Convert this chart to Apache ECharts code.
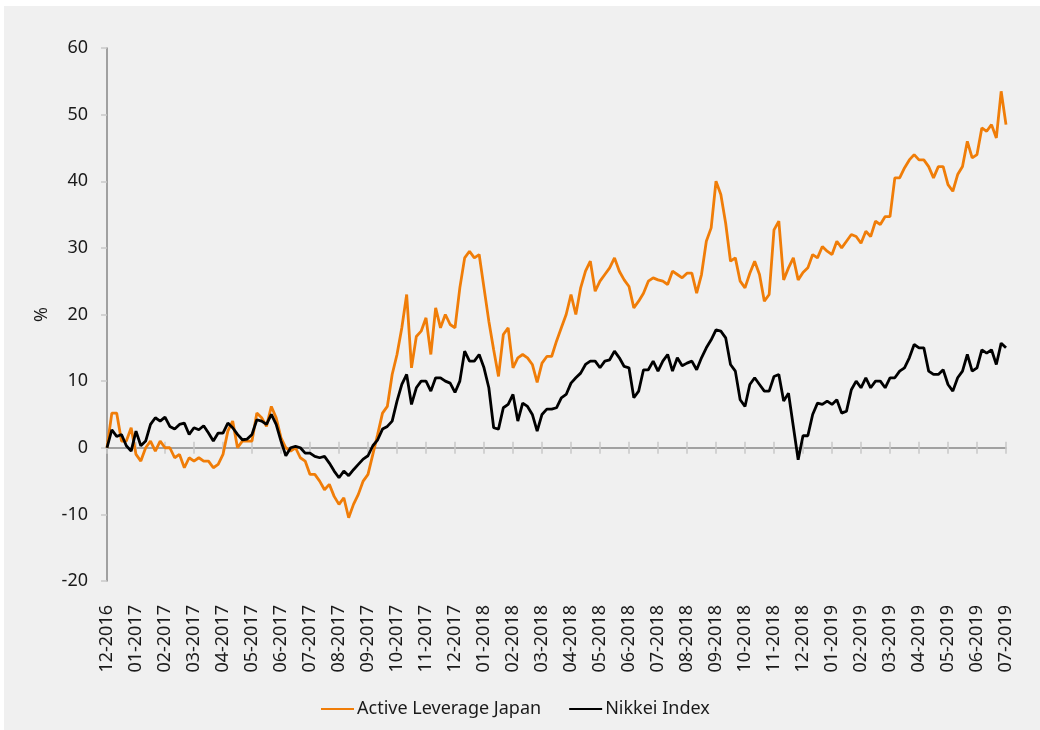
<!DOCTYPE html>
<html>
<head>
<meta charset="utf-8">
<title>Active Leverage Japan vs Nikkei Index</title>
<script src="https://cdn.jsdelivr.net/npm/echarts@6/dist/echarts.min.js"></script>
<style>
  html, body { margin: 0; padding: 0; background: #fff; }
  #chart { position: absolute; left: 4px; top: 6px; width: 1036px; height: 724px; background: #f0f0f0; }
</style>
</head>
<body>
<div id="chart"></div>
<script>
const tickLabels = [
  '12-2016', '01-2017', '02-2017', '03-2017', '04-2017', '05-2017', '06-2017', '07-2017',
  '08-2017', '09-2017', '10-2017', '11-2017', '12-2017', '01-2018', '02-2018', '03-2018',
  '04-2018', '05-2018', '06-2018', '07-2018', '08-2018', '09-2018', '10-2018', '11-2018',
  '12-2018', '01-2019', '02-2019', '03-2019', '04-2019', '05-2019', '06-2019', '07-2019'
]
// values read every ~5 days (6 per month), one row per month
const stepsPerMonth = 6

const activeLeverage = [
  0, 5.2, 5.2, 1, 1, 3,
  -1, -2, 0, 1, -0.5, 1,
  0, 0, -1.5, -1, -3, -1.5,
  -2, -1.5, -2, -2, -3, -2.5,
  -1, 2.5, 4, 0, 1, 1,
  1, 5.2, 4.5, 3.2, 6.2, 4.5,
  1.5, 0, -0.5, 0, -1.5, -2,
  -4, -4, -5, -6.3, -5.5, -7.3,
  -8.5, -7.5, -10.5, -8.5, -7, -5,
  -4, -1, 2, 5.2, 6.2, 11,
  14, 18, 23, 12, 16.7, 17.5,
  19.5, 14, 21, 18, 20, 18.5,
  18, 24, 28.5, 29.5, 28.5, 29,
  24, 19, 14.7, 10.7, 17, 18,
  12, 13.5, 14, 13.5, 12.5, 9.8,
  12.7, 13.7, 13.7, 16, 18, 20,
  23, 20, 24, 26.5, 28, 23.5,
  25, 26, 27, 28.5, 26.5, 25.2,
  24.2, 21, 22, 23.2, 25, 25.5,
  25.2, 25, 24.5, 26.5, 26, 25.5,
  26.2, 26.2, 23.2, 26, 31, 33,
  40, 38, 33.7, 28, 28.5, 25,
  24, 26.2, 28, 26, 22, 23,
  32.7, 34, 25.2, 27, 28.5, 25.2,
  26.3, 27, 29, 28.5, 30.2, 29.5,
  29, 31, 30, 31, 32, 31.7,
  30.7, 32.5, 31.7, 34, 33.5, 34.7,
  34.7, 40.5, 40.5, 42, 43.2, 44,
  43.2, 43.2, 42.2, 40.5, 42.2, 42.2,
  39.5, 38.5, 41, 42.2, 46, 43.5,
  44, 48, 47.5, 48.5, 46.5, 53.5,
  48.5
]

const nikkei = [
  0, 2.7, 1.7, 2, 0.3, -0.5,
  2.5, 0.3, 1, 3.5, 4.5, 4,
  4.6, 3.2, 2.8, 3.5, 3.7, 2,
  3, 2.7, 3.3, 2.2, 1, 2.2,
  2.2, 3.7, 3, 2, 1.2, 1.3,
  2, 4.2, 4, 3.5, 5, 3.5,
  1, -1.2, 0, 0.2, 0, -0.8,
  -0.8, -1.3, -1.5, -1.3, -2.3, -3.5,
  -4.5, -3.5, -4.2, -3.3, -2.5, -1.7,
  -1.2, 0.3, 1.2, 2.8, 3.2, 4,
  7, 9.5, 11, 6.5, 9, 10,
  10, 8.5, 10.5, 10.5, 10, 9.7,
  8.3, 10, 14.5, 13, 13, 14,
  12, 9, 3, 2.8, 6, 6.5,
  8, 4, 6.7, 6.2, 5, 2.5,
  5, 5.8, 5.8, 6, 7.5, 8,
  9.7, 10.5, 11.2, 12.5, 13, 13,
  12, 13, 13.2, 14.5, 13.5, 12.2,
  12, 7.5, 8.5, 11.7, 11.7, 13,
  11.5, 13, 14, 11.5, 13.5, 12.3,
  12.7, 13, 11.7, 13.5, 15, 16.2,
  17.7, 17.5, 16.5, 12.5, 11.5, 7.2,
  6.2, 9.5, 10.5, 9.5, 8.5, 8.5,
  10.7, 11, 7, 8.2, 3.2, -1.8,
  1.8, 1.8, 5, 6.7, 6.5, 7,
  6.5, 7.2, 5.2, 5.5, 8.7, 10,
  9, 10.5, 9, 10, 10, 9,
  10.5, 10.5, 11.5, 12, 13.5, 15.5,
  15, 15, 11.5, 11, 11, 11.7,
  9.5, 8.5, 10.5, 11.5, 14, 11.5,
  12, 14.7, 14.2, 14.7, 12.5, 15.7,
  15
]

const yMin = -20
const yMax = 60

// one category per sample, the month label is kept before the '/'
const categories = []
tickLabels.forEach(function (label, m) {
  const n = m === tickLabels.length - 1 ? 1 : stepsPerMonth
  for (let k = 0; k < n; k++) {
    categories.push(label + '/' + k)
  }
})

const font = 'Noto Sans'
const fontSize = 18
const textColor = '#1a1a1a'
const gridTop = 42
const gridBottom = 149
const chartHeight = 724

// the second tick row sits on the zero line, measured up from the grid bottom
const zeroOffset = -(chartHeight - gridTop - gridBottom) * (0 - yMin) / (yMax - yMin)

const chart = echarts.init(document.getElementById('chart'))

const baseX = {
  type: 'category',
  data: categories,
  boundaryGap: false,
  splitLine: { show: false }
}
const monthTick = { show: true, interval: stepsPerMonth - 1, length: 6, lineStyle: { color: '#c8c8c8', width: 1.5 } }

const option = {
  animation: false,
  backgroundColor: '#f0f0f0',
  textStyle: { fontFamily: font },
  grid: {
    left: 103,
    right: 34,
    top: gridTop,
    bottom: gridBottom,
    outerBoundsMode: 'none'
  },
  legend: {
    left: 312,
    top: 689,
    icon: 'rect',
    itemWidth: 33,
    itemHeight: 2,
    itemGap: 28,
    textStyle: { fontSize: fontSize, color: textColor, fontFamily: font, padding: [0, 0, 0, -2] },
    data: ['Active Leverage Japan', 'Nikkei Index']
  },
  xAxis: [
    // zero line, ticks going down
    Object.assign({}, baseX, {
      position: 'bottom',
      axisLine: { onZero: true, lineStyle: { color: '#868686', width: 1.5 } },
      axisTick: monthTick,
      axisLabel: { show: false }
    }),
    // ticks going up from the zero line
    Object.assign({}, baseX, {
      position: 'bottom',
      offset: zeroOffset,
      axisLine: { show: false, onZero: false },
      axisTick: Object.assign({}, monthTick, { inside: true }),
      axisLabel: { show: false }
    }),
    // month labels under the plot
    Object.assign({}, baseX, {
      position: 'bottom',
      axisLine: { show: false, onZero: false },
      axisTick: { show: false },
      axisLabel: {
        interval: stepsPerMonth - 1,
        rotate: 90,
        margin: 24,
        fontSize: fontSize,
        color: textColor,
        fontFamily: font,
        formatter: function (v) {
          return v.split('/')[0]
        }
      }
    })
  ],
  yAxis: {
    type: 'value',
    min: yMin,
    max: yMax,
    interval: 10,
    name: '%',
    nameLocation: 'middle',
    nameGap: 55,
    nameRotate: 90,
    nameTextStyle: { fontSize: fontSize, color: textColor, fontFamily: font },
    axisLine: { show: true, lineStyle: { color: '#868686', width: 1.5 } },
    axisTick: { show: true, length: 6, lineStyle: { color: '#c8c8c8', width: 1.5 } },
    axisLabel: { fontSize: fontSize, color: textColor, fontFamily: font, margin: 19 },
    splitLine: { show: false }
  },
  series: [
    {
      name: 'Active Leverage Japan',
      type: 'line',
      xAxisIndex: 0,
      data: activeLeverage,
      symbol: 'none',
      color: '#f07d08',
      lineStyle: { width: 2.8, color: '#f07d08' }
    },
    {
      name: 'Nikkei Index',
      type: 'line',
      xAxisIndex: 0,
      data: nikkei,
      symbol: 'none',
      color: '#000000',
      lineStyle: { width: 2.8, color: '#000000' }
    }
  ]
}

chart.setOption(option)
</script>
</body>
</html>
